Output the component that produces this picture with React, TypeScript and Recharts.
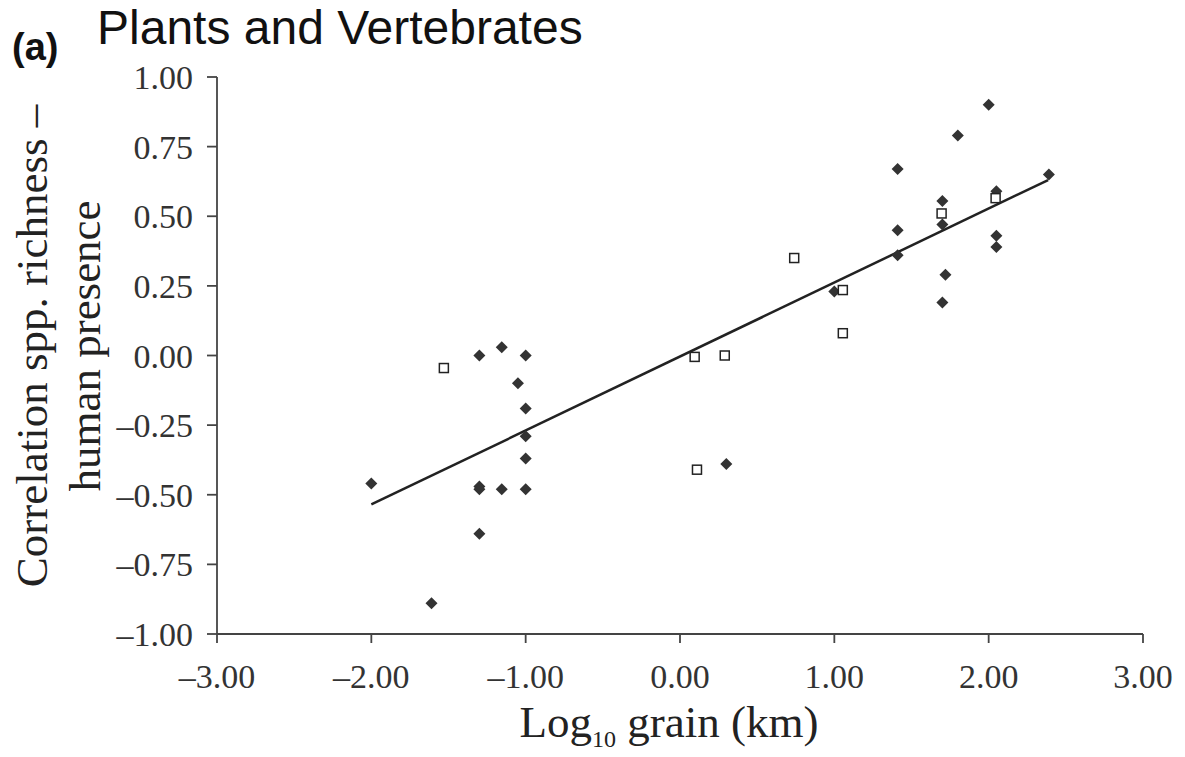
import React from 'react';
import {
  ScatterChart,
  Scatter,
  XAxis,
  YAxis,
  ReferenceLine,
  Label,
} from 'recharts';

// filled diamonds (one series of studies)
const solidPoints = [
  { x: -2.0, y: -0.46 },
  { x: -1.61, y: -0.89 },
  { x: -1.3, y: 0.0 },
  { x: -1.3, y: -0.47 },
  { x: -1.3, y: -0.48 },
  { x: -1.3, y: -0.64 },
  { x: -1.155, y: 0.03 },
  { x: -1.155, y: -0.48 },
  { x: -1.05, y: -0.1 },
  { x: -1.0, y: 0.0 },
  { x: -1.0, y: -0.19 },
  { x: -1.0, y: -0.29 },
  { x: -1.0, y: -0.37 },
  { x: -1.0, y: -0.48 },
  { x: 0.3, y: -0.39 },
  { x: 1.0, y: 0.23 },
  { x: 1.41, y: 0.67 },
  { x: 1.41, y: 0.45 },
  { x: 1.41, y: 0.36 },
  { x: 1.7, y: 0.555 },
  { x: 1.7, y: 0.47 },
  { x: 1.7, y: 0.19 },
  { x: 1.72, y: 0.29 },
  { x: 1.8, y: 0.79 },
  { x: 2.0, y: 0.9 },
  { x: 2.05, y: 0.59 },
  { x: 2.05, y: 0.43 },
  { x: 2.05, y: 0.39 },
  { x: 2.39, y: 0.65 },
];

// open squares
const openPoints = [
  { x: -1.53, y: -0.045 },
  { x: 0.095, y: -0.005 },
  { x: 0.29, y: 0.0 },
  { x: 0.11, y: -0.41 },
  { x: 0.74, y: 0.35 },
  { x: 1.055, y: 0.235 },
  { x: 1.055, y: 0.08 },
  { x: 1.695, y: 0.51 },
  { x: 2.045, y: 0.565 },
];

// regression line end points
const fitLine = [
  { x: -2.0, y: -0.535 },
  { x: 2.385, y: 0.63 },
];

const xTicks = [-3, -2, -1, 0, 1, 2, 3];
const yTicks = [-1, -0.75, -0.5, -0.25, 0, 0.25, 0.5, 0.75, 1];

const SERIF = '"Liberation Serif", "Times New Roman", serif';
const SANS = '"Liberation Sans", Arial, sans-serif';
const fmt = (v: number) => (v < 0 ? '\u2013' + Math.abs(v).toFixed(2) : v.toFixed(2));

const Diamond = (props: any) => {
  const { cx, cy } = props;
  const r = 6;
  return (
    <path
      d={`M${cx},${cy - r} L${cx + r},${cy} L${cx},${cy + r} L${cx - r},${cy} Z`}
      fill="#333"
    />
  );
};

const Square = (props: any) => {
  const { cx, cy } = props;
  return (
    <rect x={cx - 4.5} y={cy - 4.5} width={9} height={9} fill="#fff" stroke="#222" strokeWidth={1.5} />
  );
};

const YLabel = () => {
  const cy = 346;
  return (
    <g fontFamily={SERIF} fontSize={45} fill="#222">
      <text x={47} y={cy} textAnchor="middle" transform={`rotate(-90 47 ${cy})`}>
        Correlation spp. richness {'\u2013'}
      </text>
      <text x={100} y={cy} textAnchor="middle" transform={`rotate(-90 100 ${cy})`}>
        human presence
      </text>
    </g>
  );
};

const XLabel = () => {
  return (
    <text x={669} y={737} textAnchor="middle" fontFamily={SERIF} fontSize={45} fill="#222">
      Log
      <tspan fontSize={24} dy={10}>10</tspan>
      <tspan dy={-10}> grain (km)</tspan>
    </text>
  );
};

export default function App() {
  return (
    <div style={{ position: 'absolute', left: 0, top: 0, width: 1185, height: 757, background: '#fff' }}>
      <ScatterChart width={1185} height={757} margin={{ top: 77, right: 42, bottom: 23, left: 0 }}>
        <XAxis
          type="number"
          dataKey="x"
          domain={[-3, 3]}
          ticks={xTicks}
          tickFormatter={fmt}
          height={100}
          tickSize={9}
          tickMargin={21}
          stroke="#444"
          strokeWidth={1.8}
          tick={{ fontFamily: SERIF, fontSize: 34, fill: '#333' }}
        >
          <Label content={XLabel} />
        </XAxis>
        <YAxis
          type="number"
          dataKey="y"
          domain={[-1, 1]}
          ticks={yTicks}
          tickFormatter={fmt}
          width={217}
          tickSize={10}
          tickMargin={14}
          stroke="#444"
          strokeWidth={1.8}
          tick={{ fontFamily: SERIF, fontSize: 34, fill: '#333' }}
        >
          <Label content={YLabel} />
        </YAxis>
        <ReferenceLine segment={fitLine} stroke="#222" strokeWidth={2.5} ifOverflow="visible" />
        <Scatter data={solidPoints} shape={Diamond} isAnimationActive={false} />
        <Scatter data={openPoints} shape={Square} isAnimationActive={false} />
      </ScatterChart>
      <svg
        width={1185}
        height={757}
        style={{ position: 'absolute', left: 0, top: 0, pointerEvents: 'none' }}
      >
        <text x={12} y={60} fontFamily={SANS} fontWeight="bold" fontSize={38} fill="#111">
          (a)
        </text>
        <text x={97} y={44} fontFamily={SANS} fontSize={48} fill="#111">
          Plants and Vertebrates
        </text>
      </svg>
    </div>
  );
}
